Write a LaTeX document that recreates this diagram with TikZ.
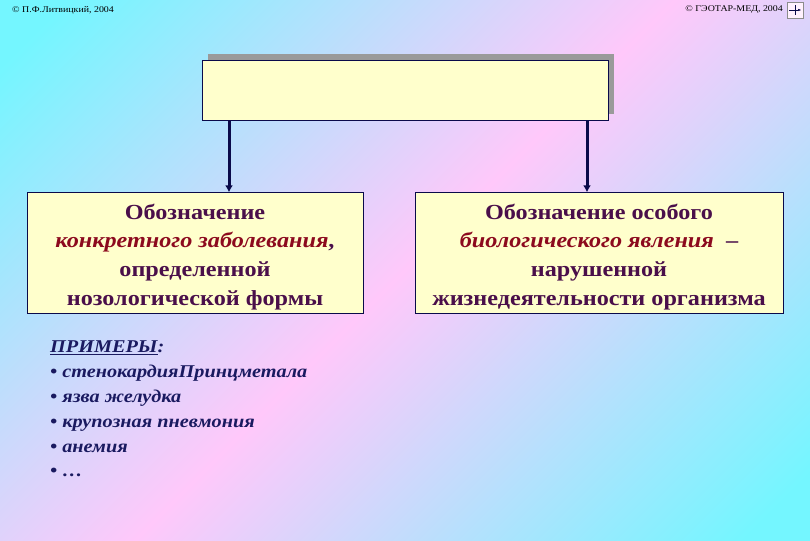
\documentclass[tikz,border=0pt]{standalone}
\usepackage{fontspec}
\setmainfont[FakeStretch=1.125]{Liberation Serif}
\usetikzlibrary{arrows.meta,positioning,shadows}
\definecolor{bgcyan}{HTML}{74F6FF}
\definecolor{bgpink}{HTML}{FFC8FA}
\definecolor{boxfill}{HTML}{FFFFCC}
\definecolor{navy}{HTML}{0A0A4A}
\definecolor{plum}{HTML}{4A0F4A}
\definecolor{wine}{HTML}{8C0A1E}
\definecolor{listink}{HTML}{1A1A60}
\definecolor{shadowgray}{HTML}{9A9A9A}
\pgfdeclarehorizontalshading{slidebg}{100bp}{color(0bp)=(bgcyan); color(18bp)=(bgcyan); color(50bp)=(bgpink); color(82bp)=(bgcyan); color(100bp)=(bgcyan)}
\tikzset{
  >=Latex,
  credit/.style={font=\fontsize{8.8}{10}\selectfont,text=black,inner sep=0pt},
  navbox/.style={draw=black!45,fill=white!75!bgpink,minimum size=16pt,inner sep=0pt},
  topbox/.style={draw=navy,fill=boxfill,minimum width=406pt,minimum height=60pt,
    general shadow={fill=shadowgray,shadow xshift=6pt,shadow yshift=6pt}},
  bigbox/.style={draw=navy,fill=boxfill,minimum height=121pt,align=center,inner sep=2pt,
    font=\fontsize{21.5}{28.7}\selectfont\bfseries,text=plum},
  examples/.style={align=left,inner sep=0pt,font=\fontsize{18}{24.8}\selectfont\bfseries\itshape,text=listink},
  link/.style={-{Latex[length=7pt,width=8pt]},line width=3pt,draw=navy},
}
\newcommand{\term}[1]{\textit{\color{wine}#1}}

\begin{document}
\begin{tikzpicture}[x=1pt,y=-1pt]
\useasboundingbox (0,0) rectangle (810,540);
\fill[shading=slidebg,shading angle=-45] (0,0) rectangle (810,540);

% header
\node[credit,anchor=west] (author) at (12,10) {© П.Ф.Литвицкий, 2004};
\node[credit,anchor=east] (publisher) at (783,10) {© ГЭОТАР-МЕД, 2004};
\node[navbox] (nav) at (795,10) {};
\draw[navy,-{Latex[length=3pt]}] ([xshift=2pt]nav.west) -- ([xshift=-2pt]nav.east);
\draw[navy] ([yshift=-3pt]nav.north) -- ([yshift=3pt]nav.south);

% root and two meanings
\node[topbox] (root) at (405,90) {};
\node[bigbox,minimum width=336pt] (disease) at (195,253)
{\rule{0pt}{23pt}Обозначение\\ \term{конкретного заболевания},\\ определенной\\ нозологической формы};
\node[bigbox,minimum width=368pt] (phenom) at (599,253)
{\rule{0pt}{23pt}Обозначение особого\\ \term{биологического явления} \ --\\ нарушенной\\ жизнедеятельности организма};
\draw[link] (root.south -| 229,0) -- (disease.north -| 229,0);
\draw[link] (root.south -| 587,0) -- (phenom.north -| 587,0);

% examples
\node[examples,anchor=north west] (list) at (50,341)
{\underline{ПРИМЕРЫ}:\\ • стенокардияПринцметала\\ • язва желудка\\ • крупозная пневмония\\ • анемия\\ • …};

\end{tikzpicture}
\end{document}
